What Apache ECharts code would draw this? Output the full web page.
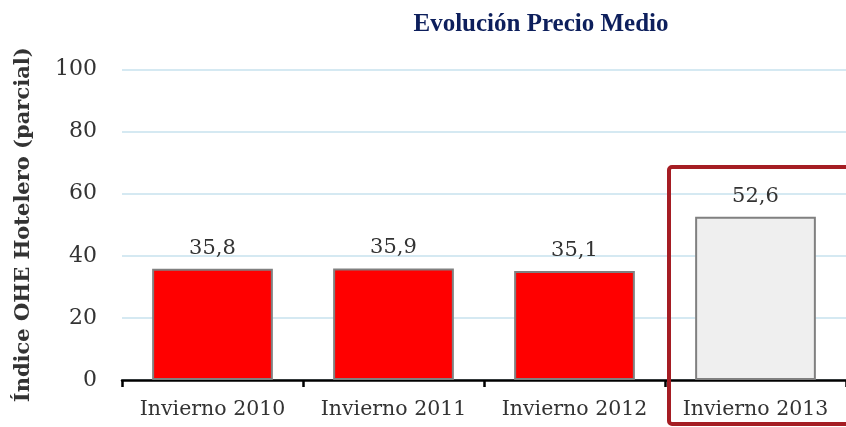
<!DOCTYPE html>
<html>
<head>
<meta charset="utf-8">
<script src="https://cdn.jsdelivr.net/npm/echarts@6/dist/echarts.min.js"></script>
<style>
html,body{margin:0;padding:0;background:#fff;}
#c{width:846px;height:427px;}
</style>
</head>
<body>
<div id="c"></div>
<script>
const categories = ['Invierno 2010', 'Invierno 2011', 'Invierno 2012', 'Invierno 2013'];
const values = [35.8, 35.9, 35.1, 52.6];
const barColors = ['#ff0000', '#ff0000', '#ff0000', '#efefef'];
const yTicks = [0, 20, 40, 60, 80, 100];

const chart = echarts.init(document.getElementById('c'));
const serif = 'DejaVu Serif';
chart.setOption({
  animation: false,
  title: {
    text: 'Evolución Precio Medio',
    left: 536, top: 7, textAlign: 'center',
    textStyle: { fontFamily: 'Liberation Serif', fontWeight: 'bold', fontSize: 25, color: '#0d1f5c' }
  },
  grid: { left: 122, top: 69.5, width: 726, height: 310.5, containLabel: false },
  xAxis: {
    type: 'category',
    data: categories,
    axisLine: { lineStyle: { color: '#000', width: 2.5 } },
    axisTick: { show: true, interval: 0, length: 7, lineStyle: { color: '#000', width: 2.5 } },
    axisLabel: { interval: 0, hideOverlap: false, fontFamily: serif, fontSize: 20.5, color: '#333', margin: 19 }
  },
  yAxis: {
    type: 'value',
    min: yTicks[0], max: yTicks[yTicks.length - 1], interval: 20,
    name: 'Índice OHE Hotelero (parcial)',
    nameLocation: 'middle',
    nameGap: 88,
    nameTextStyle: { fontFamily: serif, fontWeight: 'bold', fontSize: 21, color: '#333' },
    axisLine: { show: false },
    axisTick: { show: false },
    axisLabel: { fontFamily: serif, fontSize: 22, color: '#333', margin: 25 },
    splitLine: { lineStyle: { color: '#d5e9f2', width: 2 } }
  },
  series: [{
    type: 'bar',
    barWidth: '66.7%',
    data: values.map((v, i) => ({
      value: v,
      itemStyle: { color: barColors[i], borderColor: '#808080', borderWidth: 2 }
    })),
    label: {
      show: true, position: 'top', distance: 10,
      fontFamily: serif, fontSize: 21, color: '#333',
      formatter: p => String(p.value).replace('.', ',')
    }
  }],
  graphic: [{
    type: 'rect',
    shape: { x: 669, y: 167, width: 200, height: 257, r: 3 },
    style: { fill: 'none', stroke: '#a51d23', lineWidth: 4 },
    z: 100
  }]
});
</script>
</body>
</html>
